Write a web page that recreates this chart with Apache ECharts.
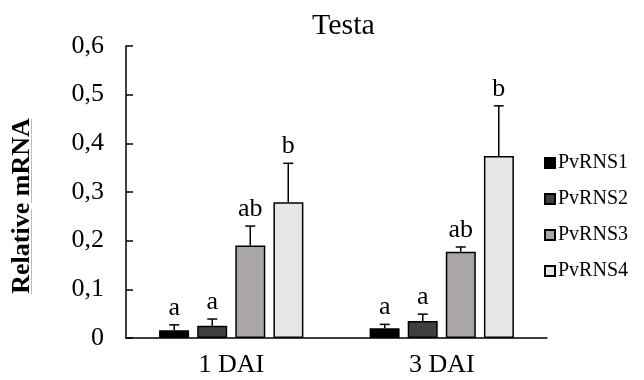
<!DOCTYPE html>
<html>
<head>
<meta charset="utf-8">
<script src="https://cdn.jsdelivr.net/npm/echarts@6/dist/echarts.min.js"></script>
<style>
	html, body { margin: 0; padding: 0; background: #fff; }
	#main { width: 644px; height: 380px; }
</style>
</head>
<body>
<div id="main"></div>
<script>
// 数据
var days = ['1 DAI', '3 DAI']
var genes = ['PvRNS1', 'PvRNS2', 'PvRNS3', 'PvRNS4']
var means = [
	[0.016, 0.020],
	[0.025, 0.035],
	[0.190, 0.177],
	[0.279, 0.374]
]
var errors = [
	[0.011, 0.008],
	[0.014, 0.014],
	[0.040, 0.010],
	[0.080, 0.103]
]
var letters = [
	['a', 'a'],
	['a', 'a'],
	['ab', 'ab'],
	['b', 'b']
]
var colors = ['#000000', '#404040', '#aaa6a6', '#e6e6e6']
var serif = '"Liberation Serif", "Times New Roman", serif'

var barW = 30
var step = 38

var series = []
for (let i = 0; i < genes.length; i++) {
	series.push({
		name: genes[i],
		type: 'bar',
		barWidth: barW,
		barGap: '27%',
		itemStyle: {
			color: colors[i],
			borderColor: '#000',
			borderWidth: 1.5
		},
		data: means[i]
	})
}

// 误差线 + 字母
var errData = []
for (let i = 0; i < genes.length; i++) {
	for (let j = 0; j < days.length; j++) {
		errData.push([j, means[i][j], means[i][j] + errors[i][j], i])
	}
}
series.push({
	type: 'custom',
	name: 'err',
	silent: true,
	z: 5,
	renderItem: function (params, api) {
		var cat = api.value(0)
		var gi = api.value(3)
		var off = (gi - 1.5) * step
		var p0 = api.coord([cat, api.value(1)])
		var p1 = api.coord([cat, api.value(2)])
		var x = p0[0] + off
		return {
			type: 'group',
			children: [{
				type: 'line',
				shape: { x1: x, y1: p0[1], x2: x, y2: p1[1] },
				style: { stroke: '#000', lineWidth: 1.5 }
			}, {
				type: 'line',
				shape: { x1: x - 5, y1: p1[1], x2: x + 5, y2: p1[1] },
				style: { stroke: '#000', lineWidth: 1.5 }
			}, {
				type: 'text',
				style: {
					x: x,
					y: p1[1] - 4,
					text: letters[gi][cat],
					fill: '#000',
					font: '26px ' + serif,
					textAlign: 'center',
					textVerticalAlign: 'bottom'
				}
			}]
		}
	},
	data: errData
})

var chart = echarts.init(document.getElementById('main'))
chart.setOption({
	animation: false,
	backgroundColor: '#fff',
	title: {
		text: 'Testa',
		left: 307,
		top: 6,
		textStyle: { fontFamily: serif, fontSize: 30, fontWeight: 'normal', color: '#000' }
	},
	legend: {
		orient: 'vertical',
		left: 539,
		top: 148,
		itemWidth: 10,
		itemHeight: 10,
		itemGap: 16,
		icon: 'rect',
		data: genes,
		textStyle: { fontFamily: serif, fontSize: 20, color: '#000', padding: [0, 0, 0, -2] }
	},
	graphic: [{
		type: 'text',
		x: 22,
		y: 206,
		rotation: Math.PI / 2,
		style: {
			text: 'Relative mRNA',
			font: 'bold 26px ' + serif,
			fill: '#000',
			textAlign: 'center',
			textVerticalAlign: 'middle'
		}
	}, {
		// 拼写检查的红线
		type: 'line',
		shape: { x1: 31.5, y1: 119, x2: 31.5, y2: 203 },
		style: { stroke: '#f2a6a6', lineWidth: 1 }
	}, {
		type: 'line',
		shape: { x1: 31.5, y1: 209, x2: 31.5, y2: 294 },
		style: { stroke: '#f2a6a6', lineWidth: 1 }
	}],
	grid: { left: 126, right: 97, top: 46, bottom: 42 },
	xAxis: {
		type: 'category',
		data: days,
		axisLine: { lineStyle: { color: '#000', width: 1.5 } },
		axisTick: { show: false },
		axisLabel: { fontFamily: serif, fontSize: 26, color: '#000', margin: 14 }
	},
	yAxis: {
		type: 'value',
		min: 0,
		max: 0.6,
		interval: 0.1,
		axisLine: { show: true, lineStyle: { color: '#000', width: 1.5 } },
		axisTick: { show: true, inside: true, length: 7, lineStyle: { color: '#000', width: 1.5 } },
		splitLine: { show: false },
		axisLabel: {
			fontFamily: serif,
			fontSize: 26,
			color: '#000',
			margin: 22,
			formatter: function (v) {
				return v === 0 ? '0' : v.toFixed(1).replace('.', ',')
			}
		}
	},
	series: series
})
</script>
</body>
</html>
